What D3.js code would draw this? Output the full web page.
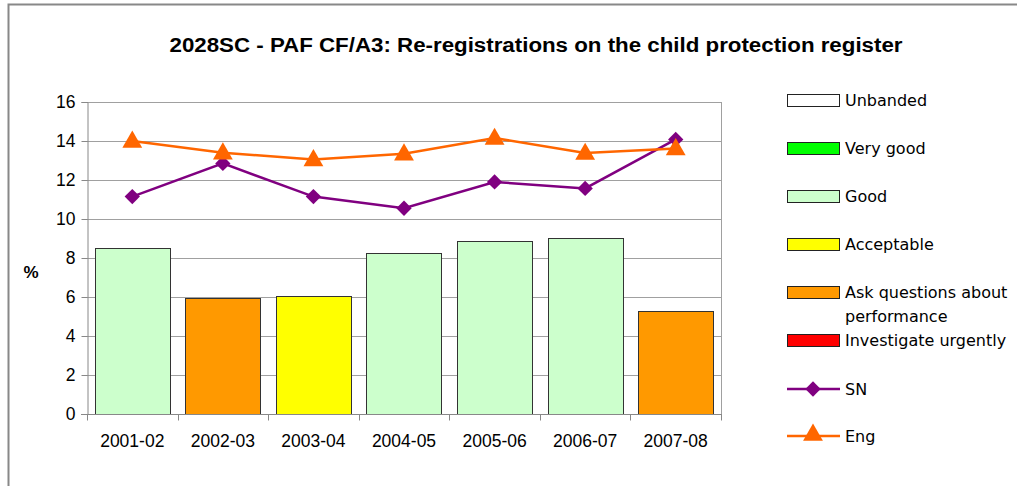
<!DOCTYPE html>
<html lang="en">
<head>
<meta charset="utf-8">
<script src="https://d3js.org/d3.v7.min.js"></script>
<style>
  body { margin: 0; background: #fff; }
  text { font-family: "Liberation Sans", Arial, sans-serif; }
  .legend text { font-family: "DejaVu Sans", Tahoma, sans-serif; font-size: 16px; }
</style>
</head>
<body>
<svg width="1017" height="486"></svg>
<script>
// data
var years = ["2001-02", "2002-03", "2003-04", "2004-05", "2005-06", "2006-07", "2007-08"];
var barValues = [8.5, 5.95, 6.05, 8.27, 8.85, 9.03, 5.3];
var barBands = ["Good", "Ask questions about performance", "Acceptable", "Good", "Good", "Good", "Ask questions about performance"];
var snValues = [11.15, 12.85, 11.15, 10.55, 11.9, 11.57, 14.08];
var engValues = [14.0, 13.4, 13.05, 13.35, 14.15, 13.38, 13.62];
var yTicks = [0, 2, 4, 6, 8, 10, 12, 14, 16];

var bands = ["Unbanded", "Very good", "Good", "Acceptable", "Ask questions about performance", "Investigate urgently"];
var bandColors = ["#FFFFFF", "#00FF00", "#CCFFCC", "#FFFF00", "#FF9900", "#FF0000"];

var svg = d3.select("svg");

// outer frame (left and top edges visible)
svg.append("path")
  .attr("d", "M8.5,486V4.5H1017")
  .attr("fill", "none")
  .attr("stroke", "#888")
  .attr("stroke-width", 2);

svg.append("text")
  .attr("x", 536).attr("y", 52)
  .attr("text-anchor", "middle")
  .attr("textLength", 733)
  .attr("lengthAdjust", "spacingAndGlyphs")
  .style("font-weight", "bold")
  .style("font-size", "20px")
  .text("2028SC - PAF CF/A3: Re-registrations on the child protection register");

var pLeft = 87, pRight = 721, pTop = 102, pBottom = 414;

var x = d3.scaleBand().domain(years).range([pLeft, pRight]).paddingInner(0.17).paddingOuter(0.085);
var y = d3.scaleLinear().domain([0, 16]).range([pBottom, pTop]);
var color = d3.scaleOrdinal().domain(bands).range(bandColors);

// gridlines
svg.append("g").selectAll("line")
  .data(yTicks.filter(function(d) { return d > 0; }))
  .enter().append("line")
  .attr("x1", pLeft).attr("x2", pRight)
  .attr("y1", function(d) { return Math.round(y(d)) + 0.5; })
  .attr("y2", function(d) { return Math.round(y(d)) + 0.5; })
  .attr("stroke", "#a0a0a0");

// right edge of plot area
svg.append("line")
  .attr("x1", pRight + 0.5).attr("x2", pRight + 0.5)
  .attr("y1", pTop).attr("y2", pBottom)
  .attr("stroke", "#a0a0a0");

// bars
svg.append("g").selectAll("rect")
  .data(years)
  .enter().append("rect")
  .attr("x", function(d) { return Math.round(x(d)) + 0.5; })
  .attr("y", function(d, i) { return Math.round(y(barValues[i])) + 0.5; })
  .attr("width", Math.round(x.bandwidth()))
  .attr("height", function(d, i) { return Math.round(pBottom - y(barValues[i])); })
  .attr("fill", function(d, i) { return color(barBands[i]); })
  .attr("stroke", "#333")
  .attr("stroke-width", 1);

// y axis
var yAxis = svg.append("g")
  .attr("transform", "translate(" + (pLeft + 0.5) + ",0)")
  .call(d3.axisLeft(y).tickValues(yTicks).tickSize(6).tickPadding(6));
yAxis.select(".domain").attr("stroke", "#888");
yAxis.selectAll(".tick line").attr("stroke", "#888");
yAxis.selectAll("text").style("font-size", "17.5px").attr("fill", "#000")
  .style("font-family", "'Liberation Sans', Arial, sans-serif");

// x axis: ticks between categories
var xAxis = svg.append("g")
  .attr("transform", "translate(0," + (pBottom + 0.5) + ")");
xAxis.append("line")
  .attr("x1", pLeft - 6).attr("x2", pRight + 1)
  .attr("stroke", "#888");
xAxis.selectAll(".sep")
  .data(d3.range(years.length + 1))
  .enter().append("line")
  .attr("x1", function(i) { return Math.round(pLeft + i * (pRight - pLeft) / years.length) + 0.5; })
  .attr("x2", function(i) { return Math.round(pLeft + i * (pRight - pLeft) / years.length) + 0.5; })
  .attr("y1", 0).attr("y2", 6)
  .attr("stroke", "#888");
xAxis.selectAll(".lab")
  .data(years)
  .enter().append("text")
  .attr("x", function(d) { return x(d) + x.bandwidth() / 2; })
  .attr("y", 32)
  .attr("text-anchor", "middle")
  .style("font-size", "17.5px")
  .text(function(d) { return d; });

svg.append("text")
  .attr("x", 31).attr("y", 278)
  .attr("text-anchor", "middle")
  .style("font-weight", "bold")
  .style("font-size", "17px")
  .text("%");

// lines
var cx = function(i) { return x(years[i]) + x.bandwidth() / 2; };
var line = d3.line().x(function(d, i) { return cx(i); }).y(function(d) { return y(d); });

svg.append("path").datum(snValues)
  .attr("d", line).attr("fill", "none")
  .attr("stroke", "#800080").attr("stroke-width", 2.5);
svg.append("path").datum(engValues)
  .attr("d", line).attr("fill", "none")
  .attr("stroke", "#FF6600").attr("stroke-width", 2.5);

var diamond = d3.symbol().type(d3.symbolDiamond2).size(150);
var triangle = d3.symbol().type(d3.symbolTriangle).size(170);

svg.append("g").selectAll("path")
  .data(snValues).enter().append("path")
  .attr("d", diamond)
  .attr("transform", function(d, i) { return "translate(" + cx(i) + "," + y(d) + ")"; })
  .attr("fill", "#800080");
svg.append("g").selectAll("path")
  .data(engValues).enter().append("path")
  .attr("d", triangle)
  .attr("transform", function(d, i) { return "translate(" + cx(i) + "," + (y(d) + 1) + ")"; })
  .attr("fill", "#FF6600");

// legend
var legend = svg.append("g").attr("class", "legend");
var bandY = [100, 148, 196, 244, 292, 340];
bands.forEach(function(b, i) {
  legend.append("rect")
    .attr("x", 787.5).attr("y", bandY[i] - 5.5)
    .attr("width", 52).attr("height", 12)
    .attr("fill", color(b)).attr("stroke", "#222");
  var t = legend.append("text").attr("x", 845).attr("y", bandY[i] + 6);
  if (b === "Ask questions about performance") {
    t.append("tspan").text("Ask questions about");
    t.append("tspan").attr("x", 845).attr("dy", 24).text("performance");
  } else {
    t.text(b);
  }
});

var seriesLegend = [
  { name: "SN", color: "#800080", sym: diamond, y: 389 },
  { name: "Eng", color: "#FF6600", sym: triangle, y: 436 }
];
seriesLegend.forEach(function(s) {
  legend.append("line")
    .attr("x1", 787).attr("x2", 840)
    .attr("y1", s.y).attr("y2", s.y)
    .attr("stroke", s.color).attr("stroke-width", 2.5);
  legend.append("path")
    .attr("d", s.sym)
    .attr("transform", "translate(813," + (s.name === "Eng" ? s.y - 1 : s.y) + ")")
    .attr("fill", s.color);
  legend.append("text").attr("x", 845).attr("y", s.y + 6).text(s.name);
});
</script>
</body>
</html>
